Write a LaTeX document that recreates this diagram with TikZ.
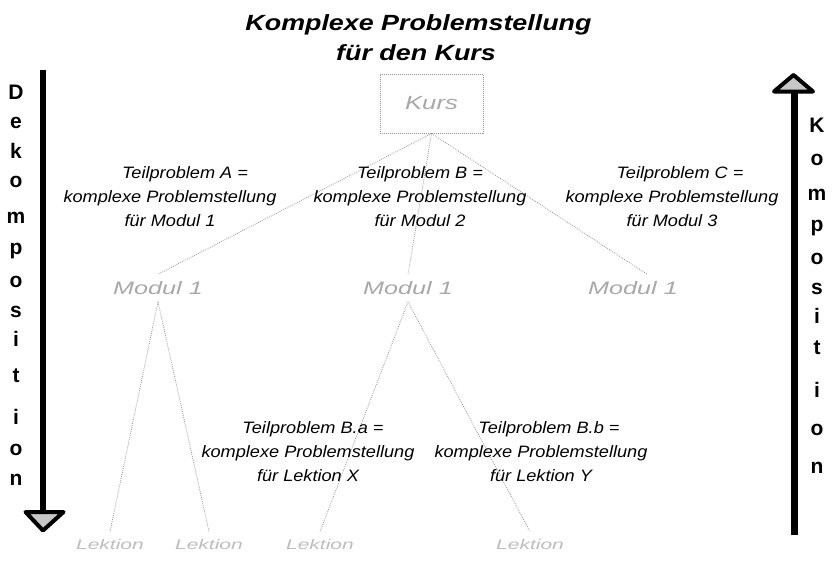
\documentclass[tikz,border=0pt]{standalone}
\usepackage{fontspec}
\setmainfont{Liberation Sans}
\newfontfamily\titlefont[FakeStretch=1.22]{Liberation Sans}
\newfontfamily\lblfont[FakeStretch=1.1]{Liberation Sans}
\newfontfamily\modfont[FakeStretch=1.4]{Liberation Sans}
\newfontfamily\kursfont[FakeStretch=1.35]{Liberation Sans}
\newfontfamily\lekfont[FakeStretch=1.5]{Liberation Sans}
\definecolor{modgray}{gray}{0.66}
\definecolor{lekgray}{gray}{0.74}
\definecolor{edgegray}{gray}{0.58}
\definecolor{boxgray}{gray}{0.6}
\definecolor{headgray}{gray}{0.78}
\begin{document}
\begin{tikzpicture}[x=1pt,y=-1pt,
  titletxt/.style={font=\titlefont\bfseries\itshape\fontsize{22}{26}\selectfont, inner sep=0pt},
  lbl/.style={font=\lblfont\itshape\fontsize{16.5}{24}\selectfont, align=center, inner sep=0pt},
  mod/.style={font=\modfont\itshape\fontsize{18}{20}\selectfont, text=modgray, inner sep=7pt},
  lek/.style={font=\lekfont\itshape\fontsize{14}{16}\selectfont, text=lekgray, inner sep=7pt},
  kursbox/.style={draw=boxgray, densely dotted, line width=1pt, minimum width=103pt, minimum height=59pt,
    font=\kursfont\itshape\fontsize{19}{21}\selectfont, text=modgray, inner sep=0pt},
  conn/.style={draw=edgegray, line width=0.8pt, dash pattern=on 0.8pt off 1.2pt},
  letter/.style={font=\bfseries\fontsize{21}{24}\selectfont, inner sep=0pt},
  shaft/.style={line width=6pt},
  arrhead/.style={draw=black, line width=4pt, line join=round, fill=headgray}
]
\useasboundingbox (0,0) rectangle (834,576);

% title
\node[titletxt, anchor=base] (t1) at (418.5,30) {Komplexe Problemstellung};
\node[titletxt, anchor=base] (t2) at (416,60) {für den Kurs};

% tree nodes
\node[kursbox] (kurs) at (431.5,103.5) {\raisebox{-5pt}{Kurs}};
\node[mod] (m1) at (158,288) {Modul 1};
\node[mod] (m2) at (408,288) {Modul 1};
\node[mod] (m3) at (633,288) {Modul 1};
\node[lek] (l1) at (110,544) {Lektion};
\node[lek] (l2) at (209,544) {Lektion};
\node[lek] (l3) at (320,544) {Lektion};
\node[lek] (l4) at (530,544) {Lektion};

% connectors
\draw[conn] (kurs.south) -- (m1.north);
\draw[conn] (kurs.south) -- (m2.north);
\draw[conn] (kurs.south) -- ([xshift=14pt]m3.north);
\draw[conn] (m1.south) -- (l1.north);
\draw[conn] (m1.south) -- (l2.north);
\draw[conn] (m2.south) -- (l3.north);
\draw[conn] (m2.south) -- (l4.north);

% labels
\node[lbl] (la) at (170,197) {\hspace*{30pt}Teilproblem A =\\komplexe Problemstellung\\für Modul 1};
\node[lbl] (lb) at (420,197) {Teilproblem B =\\komplexe Problemstellung\\für Modul 2};
\node[lbl] (lc) at (672,197) {\hspace*{16pt}Teilproblem C =\\komplexe Problemstellung\\für Modul 3};
\node[lbl] (lba) at (308,452) {\hspace*{10pt}Teilproblem B.a =\\komplexe Problemstellung\\für Lektion X};
\node[lbl] (lbb) at (541,452) {\hspace*{16pt}Teilproblem B.b =\\komplexe Problemstellung\\für Lektion Y};

% left arrow (Dekomposition)
\coordinate (ltop) at (42.5,70);
\coordinate (lbot) at (42.5,512);
\draw[shaft] (ltop) -- (lbot);
\draw[arrhead] (25.5,512) -- (63.5,512) -- (43,530.5) -- cycle;
\foreach \ch/\yy [count=\i] in {D/92,e/123,k/151,o/182,m/218,p/251,o/282,s/312,i/339,t/376,i/417,o/450,n/480}
  \node[letter] (dl\i) at (16,\yy) {\ch};

% right arrow (Komposition)
\coordinate (rbot) at (794,535);
\coordinate (rtop) at (794,91);
\draw[line width=7pt] (rbot) -- (rtop);
\draw[arrhead] (793.5,75) -- (774,91.5) -- (813,91.5) -- cycle;
\foreach \ch/\yy [count=\i] in {K/125,o/160,m/195,p/228,o/259,s/289,i/316,t/348,i/390,o/430,n/468}
  \node[letter] (kl\i) at (817,\yy) {\ch};
\end{tikzpicture}
\end{document}
